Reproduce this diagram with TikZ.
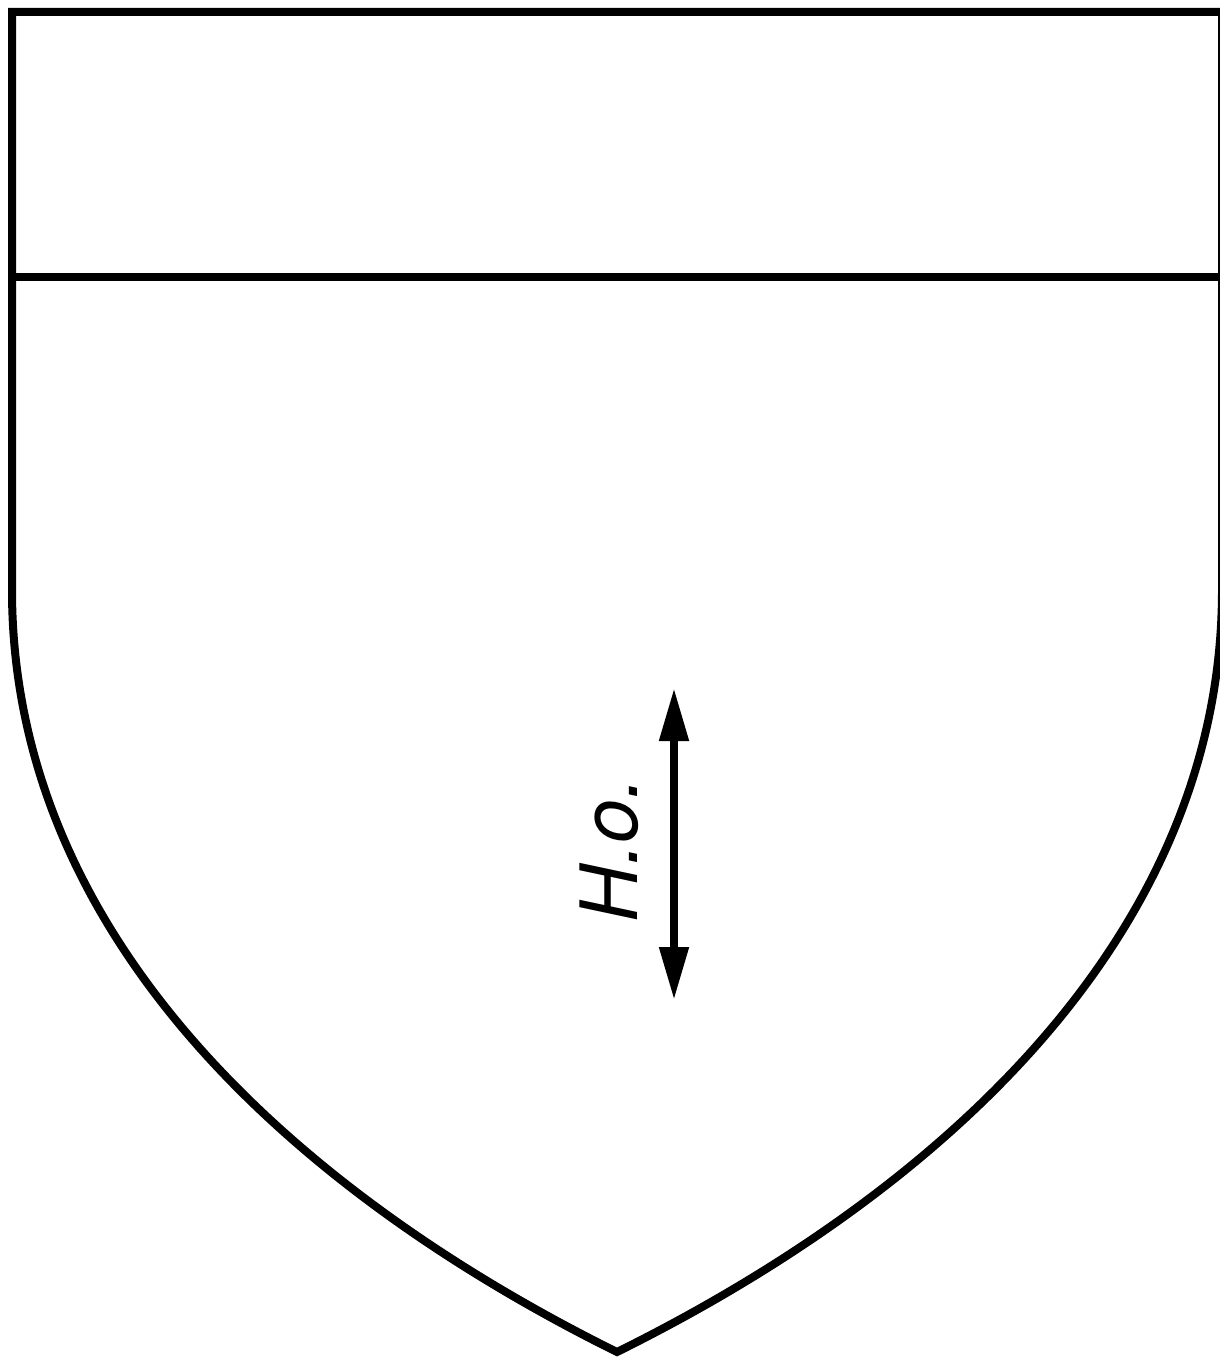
\documentclass[tikz,border=0pt]{standalone}
\usepackage{fontspec}
\setsansfont{TeX Gyre Heros}
\usepackage{tikz}
\usetikzlibrary{arrows.meta}
\tikzset{
  shieldline/.style={draw=black, line width=1.6mm},
  dimarrow/.style={line width=1.6mm,
    {Triangle[length=10.6mm 0, width=5.6mm 0]}-{Triangle[length=10.6mm 0, width=5.6mm 0]}},
  dimlabel/.style={font=\fontsize{45}{50}\selectfont\sffamily\itshape, rotate=90, inner sep=0pt}
}

\begin{document}
\begin{tikzpicture}[x=0.2mm, y=-0.2mm]
  \useasboundingbox (0,0) rectangle (1219,1357);

  %% Shield outline (right side runs just past the frame)
  \draw[shieldline] (12,12) -- (1222,12) -- (1222,590)
    .. controls (1222,940) and (934,1195) .. (617,1352)
    .. controls (300,1195) and (12,940) .. (12,590) -- cycle;

  %% Chief line
  \draw[shieldline] (12,277) -- (1222,277);

  %% Height arrow and label
  \coordinate (hotop) at (674,688);
  \coordinate (hobottom) at (674,1000);
  \draw[dimarrow] (hotop) -- (hobottom);
  \node[dimlabel] (holabel) at (609,850) {H.o.};

\end{tikzpicture}
\end{document}
